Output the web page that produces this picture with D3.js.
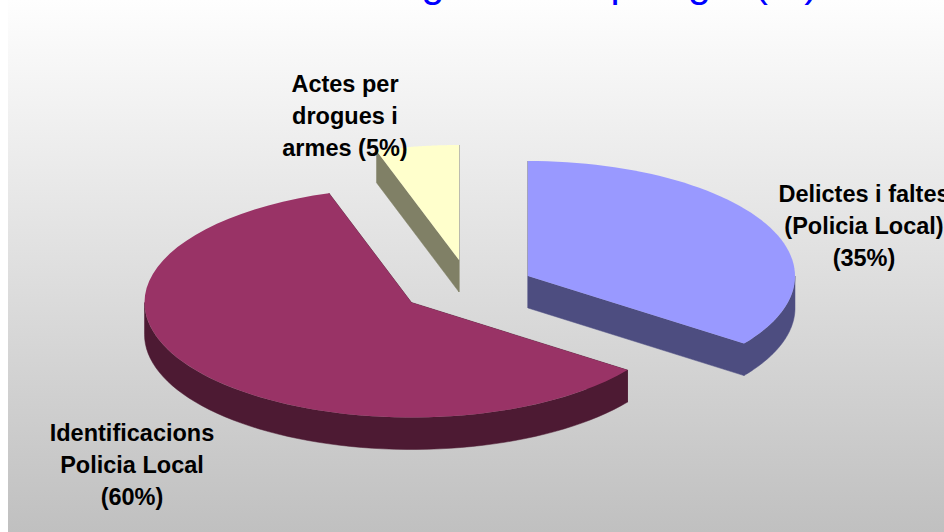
<!DOCTYPE html>
<html><head><meta charset="utf-8">
<script src="https://cdnjs.cloudflare.com/ajax/libs/d3/7.8.5/d3.min.js"></script>
<style>html,body{margin:0;padding:0;background:#fff;overflow:hidden}svg{display:block}</style>
</head><body><svg id="c" width="944" height="532"></svg>
<script>
const categories = ["Delictes i faltes (Policia Local)", "Identificacions Policia Local", "Actes per drogues i armes"];
const values = [35, 60, 5];
const topColors = ["#9999ff", "#993366", "#ffffcc"];
const sideColors = ["#4d4d80", "#4d1a33", "#808066"];
const labelLines = [["Delictes i faltes","(Policia Local)","(35%)"],["Identificacions","Policia Local","(60%)"],["Actes per","drogues i","armes (5%)"]];
const labelPos = [[864,202],[132,441],[345,92]];
const titleText = "Registre de tipologia (%)";
const sliceShift = [[60,-12],[-56.5,14.5],[-9,-28]];

const svg = d3.select("#c");
const defs = svg.append("defs");
const g = defs.append("linearGradient").attr("id","bg").attr("x1",0).attr("x2",0).attr("y1",0).attr("y2",1);
g.append("stop").attr("offset",0).attr("stop-color","#fefefe");
g.append("stop").attr("offset",1).attr("stop-color","#c0c0c0");
svg.append("rect").attr("x",8).attr("y",0).attr("width",936).attr("height",532).attr("fill","url(#bg)");

const rx = d3.scaleLinear().domain([0,1]).range([0,267]);
const ry = d3.scaleLinear().domain([0,1]).range([0,115]);
const cx = 468, cy = 288, depth = 32;
const arcs = d3.pie().sort(null).value(d=>d)(values);
const line = d3.line();
const pt = (c,a)=>[c[0]+rx(Math.sin(a)),c[1]-ry(Math.cos(a))];
const angs = (a0,a1)=>d3.range(0,61).map(i=>a0+(a1-a0)*i/60);

function slice(i){
  const a = arcs[i];
  const c=[cx+sliceShift[i][0], cy+sliceShift[i][1]];
  const down=p=>[p[0],p[1]+depth];
  const sides=[];
  [a.startAngle,a.endAngle].forEach(t=>{sides.push([c,pt(c,t),down(pt(c,t)),down(c)]);});
  const f0=Math.max(a.startAngle,Math.PI/2), f1=Math.min(a.endAngle,3*Math.PI/2);
  if(f1>f0){const top=angs(f0,f1).map(t=>pt(c,t));sides.push(top.concat(top.map(down).reverse()));}
  const gr=svg.append("g");
  gr.selectAll("path.s").data(sides).join("path").attr("class","s").attr("d",d=>line(d)+"Z").attr("fill",sideColors[i]).attr("stroke",sideColors[i]).attr("stroke-width",0.5);
  gr.append("path").attr("d",line([c].concat(angs(a.startAngle,a.endAngle).map(t=>pt(c,t))))+"Z").attr("fill",topColors[i]);
}
[2,0,1].forEach(slice);

svg.append("text").attr("x",369).attr("y",-3).attr("text-anchor","start").attr("font-family","'Liberation Sans',Arial,sans-serif").attr("font-size",41).attr("fill","#0000ff").text(titleText);

labelLines.forEach((ls,i)=>{
  ls.forEach((t,j)=>{
    svg.append("text").attr("x",labelPos[i][0]).attr("y",labelPos[i][1]+j*32).attr("text-anchor","middle")
      .attr("font-family","'Liberation Sans',Arial,sans-serif").attr("font-weight","bold").attr("font-size",23.5).attr("fill","#000").text(t);
  });
});
</script></body></html>
